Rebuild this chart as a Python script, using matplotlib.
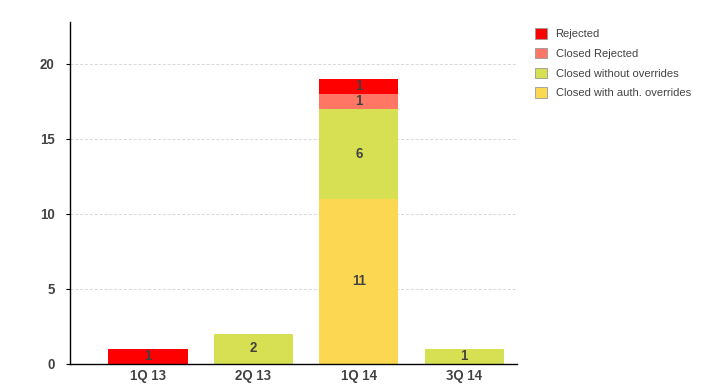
import matplotlib
matplotlib.use("Agg")
import matplotlib.pyplot as plt
from matplotlib.patches import Patch
import numpy as np

plt.rcParams['font.family'] = ['Liberation Sans', 'DejaVu Sans']
plt.rcParams['text.hinting'] = 'native'

categories = ["1Q 13", "2Q 13", "1Q 14", "3Q 14"]
series_names = ["Closed with auth. overrides", "Closed without overrides", "Closed Rejected", "Rejected"]
auth_overrides = [0, 0, 11, 0]
without_overrides = [0, 2, 6, 1]
closed_rejected = [0, 0, 1, 0]
rejected = [1, 0, 1, 0]
colors = {"Closed with auth. overrides": "#FCD752",
          "Closed without overrides": "#D6E052",
          "Closed Rejected": "#FF7664",
          "Rejected": "#FF0000"}

series = [auth_overrides, without_overrides, closed_rejected, rejected]

fig = plt.figure(figsize=(7.06, 3.88), dpi=100)
ax = fig.add_axes([70/706, 24/388, 447/706, 342/388])

x = np.arange(len(categories))
bottom = np.zeros(len(categories))
for name, vals in zip(series_names, series):
    vals = np.array(vals, dtype=float)
    ax.bar(x, vals, bottom=bottom, width=0.75, color=colors[name], linewidth=0, zorder=2)
    for xi, v, b in zip(x, vals, bottom):
        if v > 0:
            ax.text(xi, b + v/2, f"{int(v)}", ha='center', va='center',
                    fontsize=9.5, fontweight='bold', color='#404040', zorder=3)
    bottom += vals

ax.set_xlim(-0.74, 3.5)
ax.set_ylim(0, 22.8)
ax.set_yticks([0, 5, 10, 15, 20])
ax.set_xticks(x)
ax.set_xticklabels(categories)
ax.yaxis.grid(True, linestyle=(0, (3, 2)), color='#D8D8D8', linewidth=0.7, zorder=0)
ax.set_axisbelow(True)
for s in ['top', 'right']:
    ax.spines[s].set_visible(False)
for s in ['left', 'bottom']:
    ax.spines[s].set_color('black')
    ax.spines[s].set_linewidth(1)
ax.tick_params(axis='y', length=3, color='black', labelsize=9.5, labelcolor='#404040', pad=8)
ax.tick_params(axis='x', length=0, labelsize=9.5, labelcolor='#404040', pad=4)
for lab in ax.get_xticklabels() + ax.get_yticklabels():
    lab.set_fontweight('bold')

legend_order = ["Rejected", "Closed Rejected", "Closed without overrides", "Closed with auth. overrides"]
handles = [Patch(facecolor=colors[n], edgecolor='#999999', linewidth=0.6, label=n) for n in legend_order]
leg = fig.legend(handles=handles, loc='upper left', bbox_to_anchor=(535/706, 1 - 28/388),
                 frameon=False, fontsize=8, handlelength=1.1, handleheight=1.1,
                 handletextpad=0.75, labelspacing=0.78, borderaxespad=0, borderpad=0)
for t in leg.get_texts():
    t.set_color('#404040')

fig.savefig("out.png", dpi=100)
